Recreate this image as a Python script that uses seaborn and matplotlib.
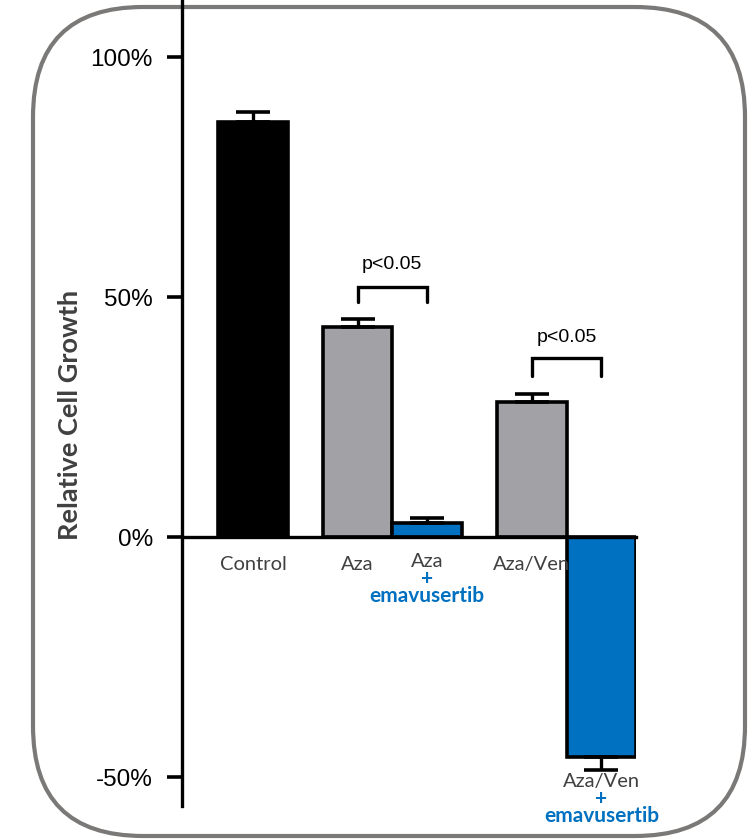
import matplotlib.pyplot as plt
import matplotlib.transforms as mtransforms
import pandas as pd
import seaborn as sns
from matplotlib.patches import FancyBboxPatch

sns.set_theme(style="white")
plt.rcParams["font.family"] = ["Liberation Sans", "DejaVu Sans"]

# Data
groups = ["Control", "Aza", "Aza + emavusertib", "Aza/Ven", "Aza/Ven + emavusertib"]
growth = [86.4, 43.8, 3.0, 28.1, -45.8]
sem = [2.2, 1.6, 1.1, 1.8, 2.7]
bar_colors = ["#000000", "#A2A1A6", "#0070C0", "#A2A1A6", "#0070C0"]
yticks = [-50, 0, 50, 100]
ytick_labels = ["-50%", "0%", "50%", "100%"]

# layout: control alone, then two touching pairs
xpos = [0, 1.5, 2.5, 4, 5]

df = pd.DataFrame({"group": groups, "growth": growth, "pos": xpos})

fig = plt.figure(figsize=(7.52, 8.39), dpi=100)
ax = fig.add_axes([0.242, 0.0393, 0.604, 0.9607])
ax.patch.set_visible(False)

sns.barplot(
    data=df,
    x="pos",
    y="growth",
    hue="group",
    palette=dict(zip(groups, bar_colors)),
    saturation=1,
    native_scale=True,
    width=1.0,
    dodge=False,
    errorbar=None,
    legend=False,
    edgecolor="black",
    linewidth=2.6,
    ax=ax,
)

# one-sided error bars (away from zero)
lower = [e if v < 0 else 0 for v, e in zip(growth, sem)]
upper = [e if v >= 0 else 0 for v, e in zip(growth, sem)]
ax.errorbar(xpos, growth, yerr=[lower, upper], fmt="none", ecolor="black",
            elinewidth=2.4, capsize=12, capthick=2.6, zorder=3)

ax.set_xlim(-1.02, 5.5)
ax.set_ylim(-56, 111.9)
ax.set_xticks([])
ax.set_xlabel("")
ax.set_yticks(yticks)
ax.set_yticklabels(ytick_labels, fontsize=17.5, color="black")
ax.tick_params(axis="y", direction="out", length=11, width=2.6, pad=10,
               left=True, color="black")

for side in ["top", "right"]:
    ax.spines[side].set_visible(False)
ax.spines["left"].set_linewidth(2.4)
ax.spines["left"].set_color("black")
ax.spines["bottom"].set_linewidth(2.4)
ax.spines["bottom"].set_color("black")
ax.spines["bottom"].set_position(("data", 0))

ax.set_ylabel("Relative Cell Growth", fontsize=19.5, fontweight="bold",
              color="#404040", family="Lato")
ax.yaxis.set_label_coords(-0.22, 0.485)

# category labels
label_font = dict(family="Lato", ha="center", va="center")
names = ["Control", "Aza", "Aza", "Aza/Ven", "Aza/Ven"]
combo = [False, False, True, False, True]
for x, v, name, is_combo in zip(xpos, growth, names, combo):
    anchor = (x, v) if v < 0 else (x, 0)
    name_off = -17.5 if is_combo else -19.5
    ax.annotate(name, xy=anchor, xytext=(0, name_off), textcoords="offset points",
                color="#404040", fontsize=14.5, **label_font)
    if is_combo:
        ax.annotate("+\nemavusertib", xy=anchor, xytext=(0, -36.5),
                    textcoords="offset points", color="#0070C0",
                    fontweight="bold", fontsize=15, linespacing=0.8,
                    **label_font)

# significance brackets
brackets = [(1.5, 2.5, 49.0, 52.1, 56.9), (4, 5, 33.5, 37.3, 41.5)]
for x1, x2, y_low, y_top, y_txt in brackets:
    ax.plot([x1, x1, x2, x2], [y_low, y_top, y_top, y_low], color="black",
            lw=2.4, solid_joinstyle="miter", clip_on=False)
    ax.text((x1 + x2) / 2, y_txt, "p<0.05", ha="center", va="center",
            fontsize=14, color="black")

# rounded frame around the panel (pixel coordinates)
frame = FancyBboxPatch((33, 3), 712, 829,
                       boxstyle="round,pad=0,rounding_size=110",
                       transform=mtransforms.IdentityTransform(),
                       fill=False, edgecolor="#7B7978", linewidth=3.0,
                       zorder=-1)
fig.add_artist(frame)

plt.savefig("out.png", dpi=100)
